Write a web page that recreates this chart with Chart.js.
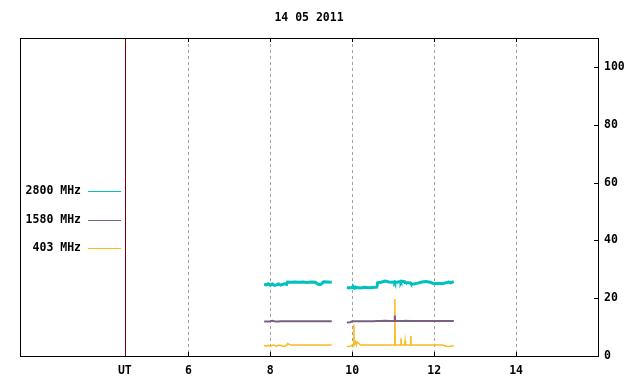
<!DOCTYPE html>
<html>
<head>
<meta charset="utf-8">
<script src="https://cdn.jsdelivr.net/npm/chart.js@4"></script>
<style>
  html, body { margin: 0; padding: 0; background: #fff; }
  #wrap { width: 640px; height: 384px; }
</style>
</head>
<body>
<div id="wrap"><canvas id="myChart" width="640" height="384"></canvas></div>
<script>
const title = '14 05 2011';
const seriesNames = ['2800 MHz', '1580 MHz', '403 MHz'];
const seriesColors = ['#00c0c0', '#7a6080', '#f8bc20'];
const seriesWidths = [3, 2, 1.5];

// UT hours (null row at 9.7 breaks the line)
const times = [
  7.85, 7.9, 7.95, 8.0, 8.05, 8.1, 8.15, 8.2, 8.25, 8.3, 8.35, 8.4, 8.42, 8.5,
  8.6, 8.7, 8.8, 8.9, 9.0, 9.1, 9.15, 9.2, 9.25, 9.3, 9.4, 9.5,
  9.7,
  9.87, 9.95, 10.0, 10.03, 10.04, 10.05, 10.08, 10.1, 10.12, 10.2, 10.3, 10.4,
  10.5, 10.6, 10.62, 10.7, 10.8, 10.9, 11.0, 11.03, 11.04, 11.05, 11.1, 11.18,
  11.19, 11.2, 11.28, 11.29, 11.3, 11.42, 11.43, 11.44, 11.5, 11.6, 11.7, 11.8,
  11.9, 12.0, 12.1, 12.2, 12.3, 12.35, 12.4, 12.48
];

const flux2800 = [
  24.8, 24.6, 25.0, 24.5, 24.9, 24.4, 24.6, 24.9, 24.5, 24.8, 25.0, 24.8, 25.6, 25.5,
  25.6, 25.5, 25.6, 25.4, 25.6, 25.5, 24.9, 24.7, 24.9, 25.7, 25.6, 25.5,
  null,
  23.7, 23.5, 23.8, 23.6, 23.7, 23.5, 23.8, 23.6, 23.7, 23.5, 23.8, 23.6,
  23.7, 23.8, 25.3, 25.5, 25.9, 25.6, 25.5, 25.7, 25.4, 25.6, 25.5, 25.8,
  25.6, 25.9, 25.7, 25.5, 25.4, 25.3, 25.1, 25.0, 24.9, 25.2, 25.6, 25.8,
  25.5, 25.0, 25.2, 25.0, 25.4, 25.6, 25.3, 25.7
];

const flux1580 = [
  11.9, 11.9, 11.9, 12.0, 12.2, 12.0, 11.9, 11.9, 12.0, 12.0, 12.0, 12.0, 12.0, 12.0,
  12.0, 12.0, 12.0, 12.0, 12.0, 12.0, 12.0, 12.0, 12.0, 12.0, 12.0, 12.0,
  null,
  11.6, 11.7, 12.0, 12.0, 12.0, 12.0, 12.0, 12.0, 12.0, 12.0, 12.0, 12.0,
  12.0, 12.1, 12.1, 12.1, 12.2, 12.1, 12.1, 12.1, 14.0, 12.1, 12.1, 12.1,
  12.1, 12.1, 12.1, 12.1, 12.2, 12.1, 12.1, 12.1, 12.1, 12.1, 12.1, 12.1,
  12.1, 12.1, 12.1, 12.1, 12.1, 12.1, 12.1, 12.1
];

const flux403 = [
  3.7, 3.4, 3.7, 3.4, 3.7, 3.7, 3.4, 3.7, 3.7, 3.4, 3.4, 3.7, 4.3, 3.8,
  3.8, 3.8, 3.8, 3.8, 3.8, 3.8, 3.8, 3.8, 3.8, 3.8, 3.8, 3.8,
  null,
  3.3, 3.4, 3.8, 3.8, 10.9, 3.8, 4.9, 3.8, 4.9, 3.8, 3.8, 3.8,
  3.8, 3.8, 3.8, 3.8, 3.8, 3.8, 3.8, 3.8, 19.7, 3.8, 3.8, 3.8,
  6.1, 3.8, 3.8, 5.2, 3.8, 3.8, 6.9, 3.8, 3.8, 3.8, 3.8, 3.8,
  3.8, 3.8, 3.8, 3.8, 3.4, 3.3, 3.4, 3.6
];

const xMin = 1.89;
const xMax = 16;
const utPos = 4.45;
const xTickValues = [utPos, 6, 8, 10, 12, 14];
const yMin = 0;
const yMax = 110;
const yTickValues = [0, 20, 40, 60, 80, 100];

const font = { family: 'DejaVu Sans Mono', size: 11.5, weight: 'bold' };
const allSeries = [flux2800, flux1580, flux403];

function toPoints(vals) {
  return times.map((t, i) => ({ x: t, y: vals[i] }));
}

// frame, UT separator, inward ticks and the left-side key
const framePlugin = {
  id: 'frame',
  afterDraw(chart) {
    const c = chart.ctx;
    const a = chart.chartArea;
    const xs = chart.scales.x;
    const ys = chart.scales.y;
    c.save();
    c.lineWidth = 1;
    c.strokeStyle = '#000';
    c.strokeRect(Math.round(a.left) + 0.5, Math.round(a.top) + 0.5,
      Math.round(a.right - a.left), Math.round(a.bottom - a.top));

    c.beginPath();
    xTickValues.forEach(v => {
      if (v === utPos) return;
      const px = Math.round(xs.getPixelForValue(v)) + 0.5;
      c.moveTo(px, a.bottom); c.lineTo(px, a.bottom - 4);
      c.moveTo(px, a.top); c.lineTo(px, a.top + 4);
    });
    yTickValues.forEach(v => {
      const py = Math.round(ys.getPixelForValue(v)) + 0.5;
      c.moveTo(a.right, py); c.lineTo(a.right - 4, py);
    });
    c.stroke();

    // UT separator
    const ux = Math.round(xs.getPixelForValue(utPos)) + 0.5;
    c.strokeStyle = '#800000';
    c.beginPath();
    c.moveTo(ux, a.top + 1); c.lineTo(ux, a.bottom);
    c.stroke();

    // key
    c.font = `${font.weight} ${font.size}px ${font.family}`;
    c.textAlign = 'right';
    c.textBaseline = 'middle';
    const keyTop = a.top + 153;
    const keyStep = 28.5;
    seriesNames.forEach((name, i) => {
      const ky = Math.round(keyTop + i * keyStep) + 0.5;
      c.fillStyle = '#000';
      c.fillText(name, a.left + 61, ky);
      c.strokeStyle = seriesColors[i];
      c.lineWidth = 1;
      c.beginPath();
      c.moveTo(a.left + 68, ky); c.lineTo(a.left + 101, ky);
      c.stroke();
    });
    c.restore();
  }
};

const ctx = document.getElementById('myChart').getContext('2d');
const myChart = new Chart(ctx, {
  type: 'line',
  data: {
    datasets: allSeries.map((vals, i) => ({
      label: seriesNames[i],
      data: toPoints(vals),
      borderColor: seriesColors[i],
      borderWidth: seriesWidths[i],
      pointRadius: 0,
      tension: 0,
      spanGaps: false
    }))
  },
  options: {
    responsive: false,
    animation: false,
    events: [],
    layout: { padding: { left: 20, right: 0, top: 0, bottom: 0 } },
    plugins: {
      legend: { display: false },
      tooltip: { enabled: false },
      title: {
        display: true,
        text: title,
        color: '#000',
        font: font,
        fullSize: false,
        padding: { top: 11.5, bottom: 12.7 }
      }
    },
    scales: {
      x: {
        type: 'linear',
        min: xMin,
        max: xMax,
        afterBuildTicks(scale) {
          scale.ticks = xTickValues.map(v => ({ value: v }));
        },
        afterFit(scale) { scale.height = 28; },
        ticks: {
          autoSkip: false,
          maxRotation: 0,
          padding: 8,
          color: '#000',
          font: font,
          callback: v => (v === utPos ? 'UT' : String(v))
        },
        grid: {
          drawTicks: false,
          color: c => (c.tick && c.tick.value === utPos ? 'rgba(0,0,0,0)' : '#a0a0a0'),
          lineWidth: 1
        },
        border: { display: false, dash: [3, 3] }
      },
      y: {
        position: 'right',
        min: yMin,
        max: yMax,
        afterBuildTicks(scale) {
          scale.ticks = yTickValues.map(v => ({ value: v }));
        },
        afterFit(scale) { scale.width = 42; },
        ticks: {
          padding: 6,
          color: '#000',
          font: font
        },
        grid: { display: false, drawTicks: false },
        border: { display: false }
      }
    }
  },
  plugins: [framePlugin]
});
</script>
</body>
</html>
